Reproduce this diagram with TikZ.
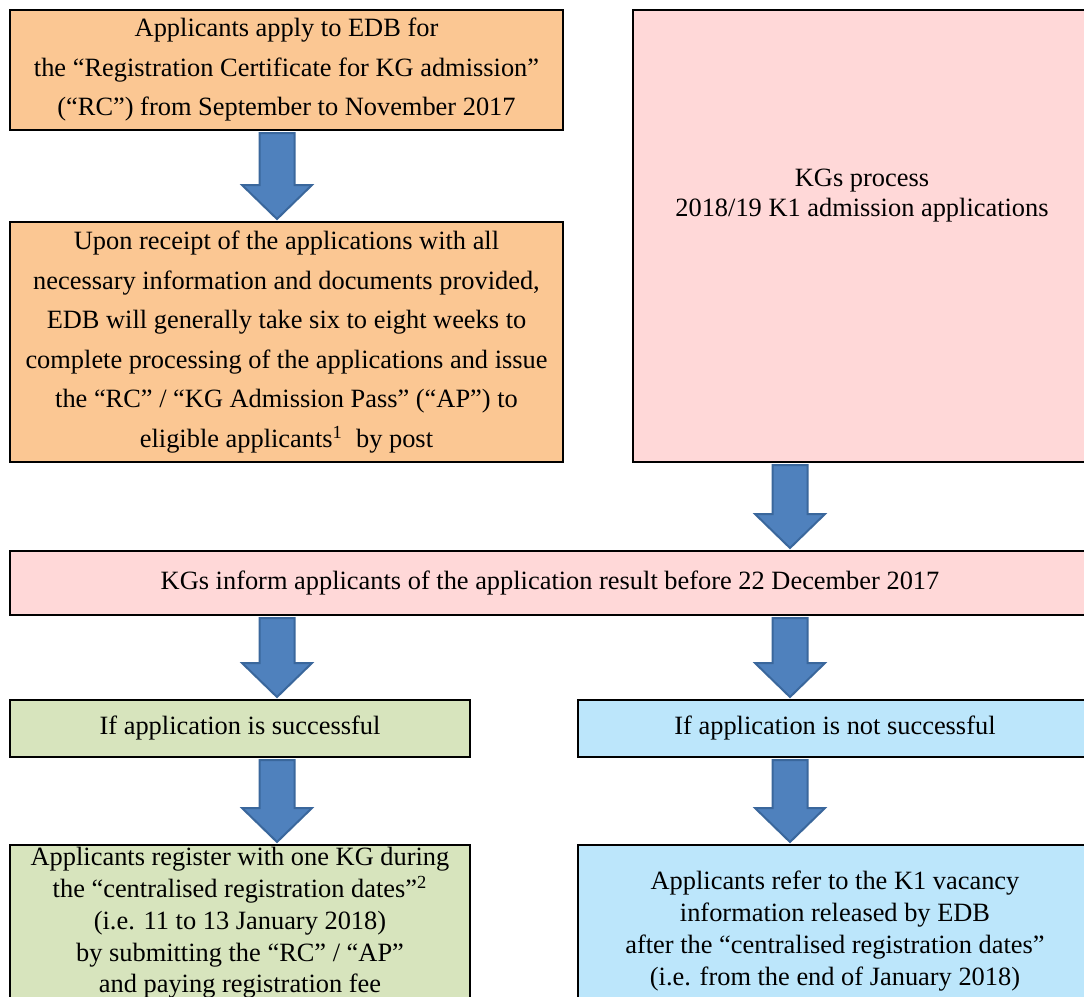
\documentclass[tikz,border=0pt]{standalone}
\usepackage{fontspec}
\setmainfont{Liberation Serif}
\usetikzlibrary{calc}

\definecolor{boxorange}{HTML}{FBC793}
\definecolor{boxpink}{HTML}{FFD8D8}
\definecolor{boxgreen}{HTML}{D7E4BD}
\definecolor{boxblue}{HTML}{BCE6FB}
\definecolor{arrowfill}{HTML}{4F81BD}
\definecolor{arrowline}{HTML}{3A679C}

\begin{document}
\begin{tikzpicture}[x=0.5pt, y=-0.5pt,
  box/.style={draw=black, line width=1pt, rectangle, align=center, inner sep=0pt,
    font=\fontsize{13.2}{15}\selectfont},
  wide/.style={font=\fontsize{13.2}{19.75}\selectfont},
  tall/.style={font=\fontsize{13.2}{15.9}\selectfont},
  downarrow/.style={fill=arrowfill, draw=arrowline, line width=1pt,
    to path={let \p1=(\tikztostart), \p2=(\tikztotarget) in
      (\x1-8.75pt,\y1-1pt) -- (\x1-8.75pt,\y2+18pt) -- (\x1-17.5pt,\y2+18pt) -- (\x1,\y2+1pt)
      -- (\x1+17.5pt,\y2+18pt) -- (\x1+8.75pt,\y2+18pt) -- (\x1+8.75pt,\y1-1pt) -- cycle}}]

\useasboundingbox (0,0) rectangle (1084,997);
\clip (0,0) rectangle (1084,997);

%% columns of the arrows
\coordinate (colL) at (277,0);
\coordinate (colR) at (790,0);

%% boxes
\node[box, wide, fill=boxorange, minimum width=276.5pt, minimum height=60pt] (rcapply) at (286.5,70)
  {Applicants apply to EDB for\\
   the “Registration Certificate for KG admission”\\
   (“RC”) from September to November 2017};
\node[box, wide, fill=boxorange, minimum width=276.5pt, minimum height=120pt] (rcissue) at (286.5,342)
  {Upon receipt of the applications with all\\
   necessary information and documents provided,\\
   EDB will generally take six to eight weeks to\\
   complete processing of the applications and issue\\
   the “RC” / “KG Admission Pass” (“AP”) to\\
   eligible applicants\textsuperscript{1}\ \ by post};
\node[box, fill=boxpink, minimum width=229pt, minimum height=226pt] (kgproc) at (862,236) {};
\node[font=\fontsize{13.2}{15}\selectfont, align=center] (kgproctext) at (862,196)
  {KGs process\\ 2018/19 K1 admission applications};
\node[box, fill=boxpink, minimum width=540pt, minimum height=32pt] (result) at (550,583)
  {KGs inform applicants of the application result before 22 December 2017};
\node[box, fill=boxgreen, minimum width=230pt, minimum height=28.5pt] (success) at (240,728.5)
  {If application is successful};
\node[box, fill=boxblue, minimum width=257pt, minimum height=28.5pt] (fail) at (835,728.5)
  {If application is not successful};
\node[box, tall, fill=boxgreen, minimum width=230pt, minimum height=78pt] (register) at (240,923)
  {Applicants register with one KG during\\
   the “centralised registration dates”\textsuperscript{2}\\
   (i.e. 11 to 13 January 2018)\\
   by submitting the “RC” / “AP”\\
   and paying registration fee};
\node[box, tall, fill=boxblue, minimum width=257pt, minimum height=86pt] (vacancy) at (835,931)
  {Applicants refer to the K1 vacancy\\
   information released by EDB\\
   after the “centralised registration dates”\\
   (i.e. from the end of January 2018)};

%% arrows
\draw[downarrow] (rcapply.south -| colL) to (rcissue.north -| colL);
\draw[downarrow] (kgproc.south -| colR) to (result.north -| colR);
\draw[downarrow] (result.south -| colL) to (success.north -| colL);
\draw[downarrow] (result.south -| colR) to (fail.north -| colR);
\draw[downarrow] (success.south -| colL) to (register.north -| colL);
\draw[downarrow] (fail.south -| colR) to (vacancy.north -| colR);

\end{tikzpicture}
\end{document}
